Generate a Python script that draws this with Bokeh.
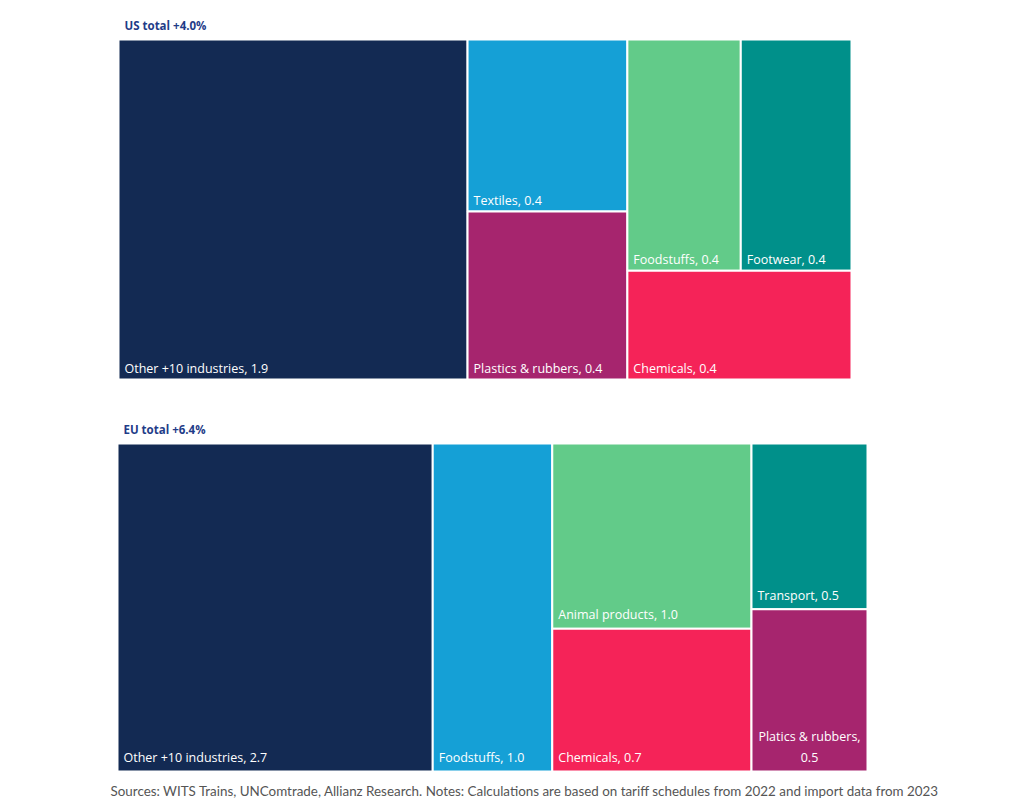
from bokeh.plotting import figure
from bokeh.models import Range1d, ColumnDataSource
from bokeh.embed import file_html
from bokeh.resources import INLINE
from bokeh.core.properties import value

# ---------------- data ----------------
us_title = "US total +4.0%"
us_categories = ["Other +10 industries", "Textiles", "Plastics & rubbers",
                 "Foodstuffs", "Footwear", "Chemicals"]
us_values = [1.90, 0.44, 0.43, 0.42, 0.41, 0.39]
us_labels = ["Other +10 industries, 1.9", "Textiles, 0.4", "Plastics & rubbers, 0.4",
             "Foodstuffs, 0.4", "Footwear, 0.4", "Chemicals, 0.4"]

eu_title = "EU total +6.4%"
eu_categories = ["Other +10 industries", "Foodstuffs", "Animal products",
                 "Chemicals", "Transport", "Platics & rubbers"]
eu_values = [2.69, 1.02, 0.96, 0.74, 0.50, 0.49]
eu_labels = ["Other +10 industries, 2.7", "Foodstuffs, 1.0", "Animal products, 1.0",
             "Chemicals, 0.7", "Transport, 0.5", "Platics & rubbers,\n0.5"]

source_note = ("Sources: WITS Trains, UNComtrade, Allianz Research. Notes: Calculations are "
               "based on tariff schedules from 2022 and import data from 2023")

# ---------------- styling ----------------
COLORS = {
    "Other +10 industries": "#132A53",
    "Textiles": "#15A0D6",
    "Foodstuffs": "#15A0D6",
    "Plastics & rubbers": "#A6256E",
    "Platics & rubbers": "#A6256E",
    "Animal products": "#62CB89",
    "Chemicals": "#F52358",
    "Footwear": "#00908A",
    "Transport": "#00908A",
}
US_FOODSTUFFS_COLOR = "#62CB89"

# layout structure: columns -> stacked bands -> items side by side
us_columns = [[[0]], [[1], [2]], [[3, 4], [5]]]
eu_columns = [[[0]], [[1]], [[2], [3]], [[4], [5]]]


def treemap(values, columns, x0, y0, x1, y1):
    total = sum(values)
    W, H = x1 - x0, y1 - y0
    rects = [None] * len(values)
    cx = x0
    for col in columns:
        csum = sum(values[i] for band in col for i in band)
        cw = W * csum / total
        cy = y0
        for band in col:
            bsum = sum(values[i] for i in band)
            bh = H * bsum / csum
            bx = cx
            for i in band:
                iw = cw * values[i] / bsum
                rects[i] = (bx, cy, bx + iw, cy + bh)
                bx += iw
            cy += bh
        cx += cw
    return rects


p = figure(width=1008, height=806, x_range=Range1d(0, 1008), y_range=Range1d(806, 0),
           output_backend="svg", toolbar_location=None, min_border=0,
           x_axis_location=None, y_axis_location=None, outline_line_color=None)
p.grid.visible = False
p.background_fill_color = "white"

FONT = value("Open Sans")


def draw(title, cats, vals, labels, columns, box, pad, color_override=None):
    x0, y0, x1, y1 = box
    rects = treemap(vals, columns, x0, y0, x1, y1)
    cols = [COLORS[c] for c in cats]
    if color_override:
        for k, v in color_override.items():
            cols[k] = v
    src = ColumnDataSource(dict(
        left=[r[0] for r in rects], right=[r[2] for r in rects],
        top=[r[1] for r in rects], bottom=[r[3] for r in rects], color=cols))
    p.quad(left="left", right="right", top="top", bottom="bottom", source=src,
           fill_color="color", line_color="white", line_width=2)

    tx, ty, tt, ta = [], [], [], []
    for r, lab in zip(rects, labels):
        lines = lab.split("\n")
        n = len(lines)
        for k, ln in enumerate(lines):
            if n > 1:
                tx.append((r[0] + r[2]) / 2)
                ta.append("center")
            else:
                tx.append(r[0] + 6)
                ta.append("left")
            ty.append(r[3] - pad - (n - 1 - k) * 21)
            tt.append(ln)
    p.text(x=tx, y=ty, text=tt, text_align=ta, text_baseline="alphabetic",
           text_font=FONT, text_font_size="12.5px", text_color="white")

    p.text(x=[x0 + 6], y=[y0 - 14], text=[title], text_font=FONT,
           text_font_size="11.5px", text_font_style="bold", text_color="#1F3C88",
           text_baseline="alphabetic")


draw(us_title, us_categories, us_values, us_labels, us_columns, (118, 39, 851, 379), 11,
     color_override={3: US_FOODSTUFFS_COLOR})
draw(eu_title, eu_categories, eu_values, eu_labels, eu_columns, (117, 443, 867, 771), 14)

p.text(x=[110], y=[790], text=[source_note], text_font=value("Lato"),
       text_font_size="13.4px", text_color="#555555", text_baseline="alphabetic")

open("out.html", "w").write(file_html(p, INLINE))
